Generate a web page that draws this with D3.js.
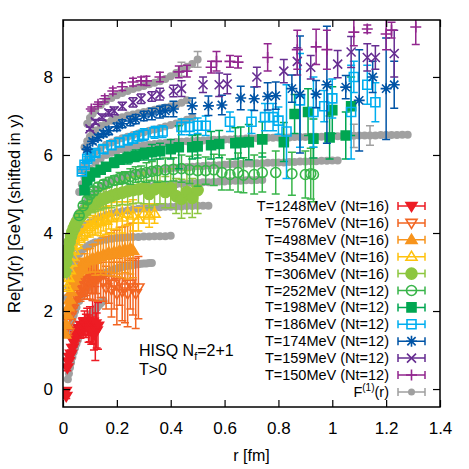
<!DOCTYPE html>
<html>
<head>
<meta charset="utf-8">
<script src="https://cdn.jsdelivr.net/npm/d3@7"></script>
<style>
  body { margin: 0; background: #fff; }
  svg { display: block; font-family: "Liberation Sans", Arial, sans-serif; }
</style>
</head>
<body>
<svg id="chart" width="469" height="469"></svg>
<script>
// legend labels, colours and marker shapes (legend order)
const labels = [
  'T=1248MeV (Nt=16)', 'T=576MeV (Nt=16)', 'T=498MeV (Nt=16)', 'T=354MeV (Nt=16)',
  'T=306MeV (Nt=16)', 'T=252MeV (Nt=12)', 'T=198MeV (Nt=12)', 'T=186MeV (Nt=12)',
  'T=174MeV (Nt=12)', 'T=159MeV (Nt=12)', 'T=150MeV (Nt=12)'
];
const colors = ['#ed1c24', '#f26522', '#f7941d', '#ffc20e', '#8dc63f', '#39b54a',
  '#00a651', '#00aeef', '#0054a6', '#662d91', '#92278f'];
const shapes = ['triDown', 'triDown', 'triUp', 'triUp', 'circle', 'circle',
  'square', 'square', 'star', 'cross', 'plus'];
const filled = [true, false, true, false, true, false, true, false, false, false, false];

const xTicks = [0, 0.2, 0.4, 0.6, 0.8, 1, 1.2, 1.4];
const yTicks = [0, 2, 4, 6, 8];

// [r (fm), Re V (GeV, shifted), error]
const t1248 = [[0.01,-0.05,0.05],[0.012,-0.18,0.06],[0.016,0.55,0.08],[0.02,0.7,0.08],[0.024,0.82,0.1],
  [0.03,0.9,0.1],[0.035,1.05,0.1],[0.04,1.2,0.12],[0.045,1.3,0.12],[0.05,1.38,0.15],[0.055,1.5,0.15],
  [0.06,1.55,0.18],[0.065,1.5,0.2],[0.07,1.62,0.2],[0.075,1.58,0.25],[0.08,1.7,0.3],[0.085,1.62,0.3],
  [0.09,1.72,0.35],[0.095,1.55,0.35],[0.1,1.66,0.45],[0.105,1.5,0.35],[0.11,1.72,0.55],[0.115,1.4,0.4],
  [0.12,1.68,0.95],[0.125,1.5,0.45],[0.13,1.62,0.6]];
const t576 = [[0.02,1.45,0.08],[0.025,1.7,0.1],[0.03,1.9,0.1],[0.035,2.05,0.12],[0.04,2.2,0.12],
  [0.045,2.3,0.15],[0.05,2.38,0.15],[0.055,2.45,0.2],[0.06,2.55,0.2],[0.065,2.5,0.25],[0.07,2.62,0.25],
  [0.075,2.68,0.3],[0.08,2.6,0.3],[0.085,2.75,0.35],[0.09,2.7,0.4],[0.095,2.8,0.35],[0.1,2.75,0.45],
  [0.105,2.85,0.4],[0.11,2.78,0.5],[0.115,2.9,0.45],[0.12,2.82,0.55],[0.125,2.95,0.5],[0.13,2.85,0.6],
  [0.14,2.9,0.55],[0.15,2.75,0.5],[0.16,2.6,0.55],[0.17,2.8,0.6],[0.18,2.55,0.7],[0.19,2.7,0.65],
  [0.2,2.45,0.8],[0.21,2.75,0.6],[0.22,2.5,0.75],[0.23,2.6,0.9],[0.24,2.45,0.85],[0.25,2.7,0.65],
  [0.26,2.6,0.7],[0.27,2.45,0.9],[0.28,2.6,0.8]];
const t498 = [[0.008,1.4,0.05],[0.012,1.65,0.06],[0.016,1.9,0.08],[0.02,2.1,0.08],[0.025,2.3,0.1],
  [0.03,2.5,0.1],[0.035,2.65,0.1],[0.04,2.78,0.12],[0.045,2.88,0.12],[0.05,2.95,0.15],[0.055,3.02,0.15],
  [0.06,3.08,0.18],[0.065,3.12,0.2],[0.07,3.15,0.2],[0.08,3.22,0.25],[0.09,3.28,0.3],[0.1,3.3,0.3],
  [0.11,3.35,0.35],[0.12,3.32,0.4],[0.13,3.4,0.4],[0.14,3.38,0.45],[0.15,3.45,0.45],[0.16,3.42,0.5],
  [0.17,3.5,0.5],[0.18,3.45,0.55],[0.19,3.52,0.55],[0.2,3.48,0.6],[0.21,3.55,0.6],[0.22,3.5,0.65],
  [0.23,3.58,0.6],[0.24,3.52,0.7],[0.25,3.6,0.65],[0.26,3.55,0.7]];
const t354 = [[0.015,2.6,0.05],[0.02,2.85,0.06],[0.025,3.05,0.08],[0.03,3.25,0.08],[0.035,3.4,0.1],
  [0.04,3.55,0.1],[0.05,3.7,0.12],[0.06,3.85,0.15],[0.07,3.95,0.15],[0.08,4.02,0.2],[0.09,4.1,0.2],
  [0.1,4.15,0.25],[0.11,4.2,0.25],[0.12,4.25,0.3],[0.13,4.3,0.3],[0.14,4.28,0.35],[0.15,4.35,0.3],
  [0.16,4.32,0.35],[0.17,4.4,0.3],[0.18,4.38,0.4],[0.2,4.45,0.35],[0.22,4.4,0.4],[0.24,4.5,0.3],
  [0.26,4.45,0.4],[0.28,4.35,0.3],[0.3,4.5,0.25],[0.32,4.45,0.3],[0.34,4.5,0.25]];
const t306 = [[0.008,3.0,0.05],[0.012,3.25,0.05],[0.016,3.45,0.06],[0.02,3.6,0.06],[0.025,3.78,0.08],
  [0.03,3.92,0.08],[0.035,4.03,0.08],[0.04,4.12,0.1],[0.045,4.2,0.1],[0.05,4.27,0.1],[0.06,4.38,0.12],
  [0.07,4.47,0.12],[0.08,4.55,0.15],[0.09,4.62,0.15],[0.1,4.68,0.15],[0.11,4.72,0.2],[0.12,4.76,0.2],
  [0.13,4.8,0.2],[0.14,4.84,0.25],[0.15,4.87,0.25],[0.16,4.9,0.25],[0.18,4.95,0.3],[0.2,5.0,0.3],
  [0.22,5.03,0.3],[0.24,5.07,0.35],[0.26,5.1,0.35],[0.28,5.12,0.35],[0.3,5.15,0.4],[0.32,5.0,0.35],
  [0.34,5.12,0.4],[0.36,5.2,0.45],[0.38,5.05,0.4],[0.4,5.15,0.5],[0.42,4.95,0.45],[0.44,4.88,0.5],
  [0.46,5.05,0.55],[0.48,4.9,0.5],[0.5,5.1,0.6]];
const t252 = [[0.06,4.45,0.05],[0.075,4.7,0.06],[0.09,4.85,0.08],[0.1,4.98,0.08],[0.115,5.08,0.1],
  [0.13,5.18,0.1],[0.15,5.25,0.1],[0.17,5.3,0.12],[0.19,5.35,0.12],[0.21,5.4,0.15],[0.23,5.42,0.15],
  [0.25,5.45,0.2],[0.27,5.5,0.2],[0.29,5.52,0.2],[0.31,5.55,0.25],[0.33,5.58,0.25],[0.35,5.6,0.3],
  [0.38,5.62,0.3],[0.41,5.63,0.3],[0.44,5.65,0.35],[0.47,5.62,0.35],[0.5,5.6,0.4],[0.53,5.6,0.35],
  [0.56,5.62,0.4],[0.59,5.55,0.45],[0.62,5.5,0.4],[0.65,5.55,0.5],[0.67,5.48,0.45],[0.71,5.5,0.5],
  [0.74,5.55,0.5],[0.79,5.55,0.55],[0.85,5.52,0.55],[0.9,5.5,0.6],[0.92,5.52,0.65],[0.93,5.5,0.7]];
const t198 = [[0.08,5.1,0.05],[0.09,5.35,0.06],[0.1,5.45,0.08],[0.12,5.55,0.08],[0.14,5.62,0.1],
  [0.16,5.7,0.1],[0.19,5.8,0.12],[0.21,5.88,0.12],[0.24,5.92,0.15],[0.27,5.98,0.15],[0.3,6.02,0.15],
  [0.33,6.07,0.2],[0.36,6.1,0.2],[0.4,6.15,0.25],[0.43,6.2,0.55],[0.48,6.2,0.3],[0.5,6.22,0.3],
  [0.55,6.25,0.35],[0.58,6.28,0.35],[0.64,6.3,0.4],[0.66,6.32,0.4],[0.69,6.33,0.45],[0.74,6.4,0.45],
  [0.82,6.33,0.5],[0.86,7.05,0.5],[0.91,7.1,0.6],[0.93,6.42,0.5],[0.99,6.45,0.55],[1.0,7.15,0.6],
  [1.05,6.5,0.6],[1.07,7.25,0.75]];
const t186 = [[0.07,5.58,0.05],[0.08,5.75,0.06],[0.09,5.9,0.06],[0.1,5.97,0.08],[0.12,6.05,0.08],
  [0.15,6.15,0.1],[0.18,6.25,0.1],[0.21,6.32,0.1],[0.24,6.38,0.12],[0.26,6.42,0.12],[0.28,6.48,0.12],
  [0.3,6.52,0.15],[0.34,6.58,0.15],[0.37,6.6,0.15],[0.44,6.72,0.2],[0.47,6.72,0.2],[0.5,6.75,0.2],
  [0.53,6.75,0.25],[0.62,6.85,0.25],[0.7,6.85,0.3],[0.75,6.97,0.35],[0.78,6.97,0.35],[0.8,6.88,0.35],
  [0.83,6.6,1.2],[0.88,7.4,1.2],[0.93,7.1,0.9],[0.97,7.25,0.4],[1.0,7.45,0.5],[1.07,7.1,1.2],
  [1.08,8.0,0.4],[1.13,7.8,0.5],[1.16,7.35,0.5]];
const t174 = [[0.09,6.15,0.05],[0.11,6.35,0.06],[0.13,6.45,0.08],[0.15,6.55,0.08],[0.17,6.62,0.1],
  [0.2,6.72,0.1],[0.22,6.8,0.1],[0.25,6.87,0.12],[0.27,6.92,0.12],[0.3,7.0,0.12],[0.33,7.05,0.15],
  [0.36,7.1,0.15],[0.38,7.13,0.15],[0.41,7.18,0.2],[0.48,7.26,0.2],[0.54,7.26,0.25],[0.59,7.28,0.25],
  [0.66,7.46,0.3],[0.71,7.44,0.3],[0.76,7.5,0.35],[0.79,7.52,0.35],[0.85,7.7,0.35],[0.88,7.55,1.5],
  [0.94,7.56,0.35],[0.98,7.8,1.5],[1.05,7.74,0.3],[1.1,7.4,1.3],[1.15,8.0,0.4],[1.2,7.7,1.3],
  [1.23,7.8,0.6]];
const t159 = [[0.1,6.67,0.05],[0.12,6.85,0.06],[0.145,6.97,0.08],[0.17,7.08,0.08],[0.19,7.13,0.1],
  [0.22,7.25,0.1],[0.26,7.35,0.12],[0.29,7.44,0.12],[0.33,7.5,0.12],[0.36,7.56,0.15],[0.41,7.64,0.15],
  [0.44,7.7,0.2],[0.52,7.8,0.2],[0.58,7.8,0.3],[0.61,7.82,0.25],[0.72,8.0,0.25],[0.82,8.15,0.3],
  [0.87,8.4,0.35],[0.92,8.25,0.3],[1.02,8.33,0.35],[1.07,8.64,0.4],[1.13,8.5,0.35],[1.16,8.5,0.3],
  [1.23,8.6,0.6]];
const t150 = [[0.105,7.18,0.05],[0.13,7.3,0.06],[0.155,7.44,0.08],[0.185,7.64,0.08],[0.22,7.75,0.1],
  [0.26,7.87,0.1],[0.29,7.9,0.1],[0.31,7.9,0.12],[0.36,8.0,0.12],[0.43,8.13,0.15],[0.46,8.15,0.15],
  [0.55,8.25,0.15],[0.57,8.4,0.25],[0.62,8.4,0.15],[0.65,8.38,0.15],[0.76,8.5,0.35],[0.87,8.7,0.5],
  [0.94,8.77,0.45],[0.98,8.7,0.5],[1.08,9.15,0.35],[1.13,9.23,0.1],[1.2,9.1,0.4],[1.22,9.2,0.2],
  [1.31,9.28,0.45]];
const series = [t1248, t576, t498, t354, t306, t252, t198, t186, t174, t159, t150];

// F^(1)(r) reference bands (grey), [r, V] or [r, V, error]
const f1a = [[0.018,0.25],[0.022,0.4],[0.026,0.55],[0.03,0.68],[0.035,0.82],[0.04,0.95],[0.045,1.06],
  [0.05,1.16],[0.055,1.26],[0.06,1.35],[0.065,1.43],[0.07,1.5],[0.075,1.57],[0.08,1.64],[0.085,1.7],
  [0.09,1.76],[0.095,1.81],[0.1,1.86],[0.105,1.91],[0.11,1.96],[0.115,2.0],[0.12,2.04],[0.125,2.08],
  [0.13,2.12],[0.135,2.16],[0.14,2.2],[0.145,2.24],[0.15,2.27]];
const f1b = [[0.025,1.45],[0.03,1.62],[0.035,1.77],[0.04,1.9],[0.045,2.0],[0.05,2.1],[0.06,2.26],
  [0.07,2.39],[0.08,2.5],[0.09,2.59],[0.1,2.67],[0.11,2.74],[0.12,2.8],[0.13,2.85],[0.14,2.9],
  [0.15,2.94],[0.16,2.98],[0.17,3.01],[0.18,3.04],[0.19,3.07],[0.2,3.09],[0.21,3.11],[0.22,3.13],
  [0.23,3.15],[0.24,3.16],[0.25,3.17],[0.26,3.18],[0.27,3.19],[0.28,3.2],[0.29,3.21],[0.3,3.22],
  [0.31,3.22],[0.32,3.23],[0.33,3.23]];
const f1c = [[0.015,2.35],[0.02,2.6],[0.025,2.8],[0.03,2.97],[0.035,3.1],[0.04,3.2],[0.045,3.29],
  [0.05,3.36],[0.06,3.47],[0.07,3.55],[0.08,3.61],[0.09,3.66],[0.1,3.7],[0.11,3.73],[0.12,3.76],
  [0.14,3.8],[0.16,3.83],[0.18,3.85],[0.2,3.87],[0.22,3.88],[0.24,3.89],[0.26,3.9],[0.28,3.9],
  [0.3,3.91],[0.32,3.91],[0.34,3.92],[0.36,3.92],[0.38,3.92],[0.4,3.93]];
const f1d = [[0.02,3.1],[0.025,3.3],[0.03,3.46],[0.035,3.6],[0.04,3.71],[0.045,3.8],[0.05,3.88],
  [0.06,4.0],[0.07,4.09],[0.08,4.16],[0.09,4.22],[0.1,4.27],[0.12,4.35],[0.14,4.41],[0.16,4.46],
  [0.18,4.5],[0.2,4.53],[0.22,4.56],[0.24,4.58],[0.26,4.6],[0.28,4.62],[0.3,4.63],[0.32,4.64],
  [0.34,4.65],[0.36,4.66],[0.38,4.67],[0.4,4.67],[0.42,4.68],[0.44,4.68],[0.46,4.69],[0.48,4.69],
  [0.5,4.7],[0.52,4.7],[0.54,4.7]];
const f1e = [[0.03,3.95],[0.035,4.1],[0.04,4.22],[0.045,4.32],[0.05,4.4],[0.06,4.52],[0.07,4.61],
  [0.08,4.68],[0.09,4.74],[0.1,4.79],[0.12,4.87],[0.14,4.93],[0.16,4.98],[0.18,5.02],[0.2,5.06],
  [0.22,5.09],[0.24,5.12],[0.26,5.14],[0.28,5.16],[0.3,5.18],[0.32,5.2],[0.34,5.21],[0.36,5.22],
  [0.38,5.23],[0.4,5.24],[0.42,5.25],[0.44,5.26],[0.46,5.27],[0.48,5.28],[0.5,5.29],[0.52,5.3],
  [0.54,5.3],[0.56,5.31],[0.58,5.32],[0.6,5.32],[0.62,5.33],[0.64,5.34],[0.66,5.34],[0.68,5.35],
  [0.7,5.35],[0.72,5.36],[0.74,5.36]];
const f1f = [[0.05,4.2],[0.06,4.42],[0.07,4.6],[0.08,4.74],[0.09,4.85],[0.1,4.94],[0.12,5.08],
  [0.14,5.19],[0.16,5.28],[0.18,5.35],[0.2,5.4],[0.22,5.45],[0.24,5.48],[0.26,5.51],[0.28,5.54],
  [0.3,5.56],[0.32,5.58],[0.34,5.6],[0.36,5.62],[0.38,5.64],[0.4,5.66],[0.42,5.67],[0.44,5.68],
  [0.46,5.69],[0.48,5.7],[0.5,5.71],[0.52,5.72],[0.54,5.73],[0.56,5.74],[0.58,5.74],[0.6,5.75],
  [0.62,5.76],[0.64,5.76],[0.66,5.77],[0.68,5.78],[0.7,5.78],[0.72,5.79],[0.74,5.79],[0.76,5.8],
  [0.78,5.8],[0.8,5.81],[0.82,5.81],[0.84,5.82],[0.86,5.82],[0.88,5.83],[0.9,5.83],[0.92,5.84],
  [0.94,5.84],[0.96,5.85],[0.98,5.85],[1.0,5.86],[1.02,5.86]];
const f1g = [[0.06,5.05],[0.07,5.25],[0.08,5.42],[0.09,5.55],[0.1,5.65],[0.12,5.8],[0.14,5.91],
  [0.16,6.0],[0.18,6.06],[0.2,6.11],[0.22,6.15],[0.24,6.18],[0.26,6.21],[0.28,6.23],[0.3,6.25],
  [0.32,6.27],[0.34,6.28],[0.36,6.3],[0.38,6.31],[0.4,6.32],[0.42,6.33],[0.44,6.34],[0.46,6.35],
  [0.48,6.36],[0.5,6.37],[0.52,6.37],[0.54,6.38],[0.56,6.39],[0.58,6.39],[0.6,6.4],[0.62,6.4],
  [0.64,6.41],[0.66,6.41],[0.68,6.42],[0.7,6.42],[0.72,6.43],[0.74,6.43],[0.76,6.44],[0.78,6.44],
  [0.8,6.45],[0.82,6.45],[0.84,6.45],[0.86,6.46],[0.88,6.46],[0.9,6.46],[0.92,6.47],[0.94,6.47],
  [0.96,6.47],[0.98,6.48],[1.0,6.48],[1.02,6.48],[1.04,6.49],[1.06,6.49],[1.08,6.49,0.3],[1.1,6.5],
  [1.12,6.5],[1.14,6.5,0.25],[1.16,6.5],[1.18,6.51],[1.2,6.51],[1.22,6.51],[1.24,6.51],[1.26,6.52],
  [1.28,6.52]];
const f1h = [[0.07,5.6],[0.08,5.75],[0.09,5.86],[0.1,5.95],[0.11,6.02],[0.12,6.08],[0.14,6.18],
  [0.16,6.26],[0.18,6.32],[0.2,6.38],[0.22,6.43],[0.24,6.47],[0.26,6.51],[0.28,6.55],[0.3,6.58],
  [0.32,6.62],[0.34,6.65],[0.36,6.69],[0.38,6.73],[0.4,6.77],[0.42,6.81],[0.44,6.85],[0.46,6.9],
  [0.48,6.96]];
const f1i = [[0.08,6.2],[0.09,6.35],[0.1,6.47],[0.11,6.56],[0.12,6.63],[0.14,6.74],[0.16,6.82],
  [0.18,6.88],[0.2,6.93],[0.22,6.97],[0.24,7.01],[0.26,7.04],[0.28,7.07],[0.3,7.1],[0.32,7.13],
  [0.34,7.16],[0.36,7.19],[0.38,7.22],[0.4,7.25],[0.42,7.29],[0.44,7.34],[0.46,7.4]];
const f1j = [[0.09,6.8],[0.1,6.95],[0.11,7.06],[0.12,7.14],[0.14,7.28],[0.16,7.38],[0.18,7.46],
  [0.2,7.53],[0.22,7.59],[0.24,7.64],[0.26,7.69],[0.28,7.73],[0.3,7.77],[0.32,7.81],[0.34,7.85],
  [0.36,7.89],[0.38,7.95],[0.4,8.02],[0.42,8.1],[0.44,8.2,0.18],[0.46,8.26],[0.48,8.33],[0.5,8.45,0.2]];
const f1Bands = [f1a, f1b, f1c, f1d, f1e, f1f, f1g, f1h, f1i, f1j];
const grey = '#a0a0a0';

const svg = d3.select('#chart');
const x = d3.scaleLinear().domain([0, 1.4]).range([63, 440]);
const y = d3.scaleLinear().domain([-0.46, 9.46]).range([407, 20]);
const [x0, x1] = x.range();
const [yB, yT] = y.range();

svg.append('defs').append('clipPath').attr('id', 'plotClip')
  .append('rect').attr('x', x0).attr('y', yT).attr('width', x1 - x0).attr('height', yB - yT);

const symbolPath = (shape, s) => {
  const cross = k => `M${-k},${-k}L${k},${k}M${-k},${k}L${k},${-k}`;
  const plus = k => `M${-k},0H${k}M0,${-k}V${k}`;
  switch (shape) {
    case 'triDown': return `M${-s},${-s * 0.65}L${s},${-s * 0.65}L0,${s}Z`;
    case 'triUp': return `M${-s},${s * 0.65}L${s},${s * 0.65}L0,${-s}Z`;
    case 'circle': return `M${s},0A${s},${s} 0 1,1 ${-s},0A${s},${s} 0 1,1 ${s},0Z`;
    case 'square': return `M${-s},${-s}H${s}V${s}H${-s}Z`;
    case 'cross': return cross(s);
    case 'plus': return plus(s);
    case 'star': return cross(s * 0.75) + plus(s);
  }
};
const symbolSize = { triDown: 5.5, triUp: 5.5, circle: 5, square: 4.5, cross: 4.5, plus: 5.5, star: 5.5 };

const cap = 4;
const plot = svg.append('g').attr('clip-path', 'url(#plotClip)');

// grey F1 bands go underneath
const greyG = plot.append('g');
f1Bands.forEach(band => {
  band.filter(d => d[2]).forEach(d => {
    const ya = y(d[1] - d[2]), yb = y(d[1] + d[2]), cx = x(d[0]);
    greyG.append('path')
      .attr('d', `M${cx},${ya}V${yb}M${cx - cap},${ya}H${cx + cap}M${cx - cap},${yb}H${cx + cap}`)
      .attr('stroke', grey).attr('stroke-width', 1.5).attr('fill', 'none');
  });
  greyG.selectAll(null).data(band).join('circle')
    .attr('cx', d => x(d[0])).attr('cy', d => y(d[1])).attr('r', 4)
    .attr('fill', grey);
});

series.forEach((data, i) => {
  const g = plot.append('g');
  const col = colors[i];
  const s = (shapes[i] === 'circle' && filled[i]) ? 5.5 : symbolSize[shapes[i]];
  g.selectAll('path.err').data(data).join('path')
    .attr('class', 'err')
    .attr('d', d => {
      const cx = x(d[0]), ya = y(d[1] - d[2]), yb = y(d[1] + d[2]);
      return `M${cx},${ya}V${yb}M${cx - cap},${ya}H${cx + cap}M${cx - cap},${yb}H${cx + cap}`;
    })
    .attr('stroke', col).attr('stroke-width', 1.5).attr('fill', 'none');
  g.selectAll('path.pt').data(data).join('path')
    .attr('class', 'pt')
    .attr('transform', d => `translate(${x(d[0])},${y(d[1])})`)
    .attr('d', symbolPath(shapes[i], s))
    .attr('fill', filled[i] ? col : 'none')
    .attr('stroke', col).attr('stroke-width', 1.6);
});

// axes: inward ticks on all four sides
const fontTick = '17px';
const styleAxis = g => {
  g.select('.domain').remove();
  g.selectAll('line').attr('stroke', '#000').attr('stroke-width', 1.2);
  g.selectAll('text').attr('font-size', fontTick).attr('fill', '#000')
    .attr('font-family', '"Liberation Sans", Arial, sans-serif');
};
svg.append('g').attr('transform', `translate(0,${yB})`)
  .call(d3.axisBottom(x).tickValues(xTicks).tickSize(-7).tickPadding(15).tickFormat(d3.format('')))
  .call(styleAxis);
svg.append('g').attr('transform', `translate(0,${yT})`)
  .call(d3.axisTop(x).tickValues(xTicks).tickSize(-7).tickFormat(''))
  .call(styleAxis);
svg.append('g').attr('transform', `translate(${x0},0)`)
  .call(d3.axisLeft(y).tickValues(yTicks).tickSize(-7).tickPadding(10))
  .call(styleAxis);
svg.append('g').attr('transform', `translate(${x1},0)`)
  .call(d3.axisRight(y).tickValues(yTicks).tickSize(-7).tickFormat(''))
  .call(styleAxis);

svg.append('rect').attr('x', x0).attr('y', yT).attr('width', x1 - x0).attr('height', yB - yT)
  .attr('fill', 'none').attr('stroke', '#000').attr('stroke-width', 1.5);

// axis titles
svg.append('text').attr('x', (x0 + x1) / 2).attr('y', 461).attr('text-anchor', 'middle')
  .attr('font-size', 16).text('r [fm]');
svg.append('text').attr('transform', `translate(20,${(yT + yB) / 2}) rotate(-90)`)
  .attr('text-anchor', 'middle').attr('font-size', 16.5).text('Re[V](r) [GeV] (shifted in y)');

// annotation
const note = svg.append('text').attr('x', 139).attr('y', 356).attr('font-size', 16);
note.append('tspan').text('HISQ N');
note.append('tspan').attr('dy', 4).attr('font-size', 11).text('f');
note.append('tspan').attr('dy', -4).text('=2+1');
svg.append('text').attr('x', 139).attr('y', 375).attr('font-size', 16).text('T>0');

// legend
const legY0 = 206, legDy = 16.9, legTextX = 389, legL = 398, legR = 425;
const legMid = (legL + legR) / 2;
const legend = svg.append('g').attr('font-size', 14.5);
const legRow = (row, col) => {
  const yy = legY0 + row * legDy;
  legend.append('path')
    .attr('d', `M${legL},${yy}H${legR}M${legL},${yy - 4}V${yy + 4}M${legR},${yy - 4}V${yy + 4}`)
    .attr('stroke', col).attr('stroke-width', 1.5).attr('fill', 'none');
  return yy;
};
labels.forEach((lab, i) => {
  const yy = legRow(i, colors[i]);
  const s = (shapes[i] === 'circle' && filled[i]) ? 5.5 : symbolSize[shapes[i]];
  legend.append('path').attr('transform', `translate(${legMid},${yy})`)
    .attr('d', symbolPath(shapes[i], s))
    .attr('fill', filled[i] ? colors[i] : 'none')
    .attr('stroke', colors[i]).attr('stroke-width', 1.6);
  legend.append('text').attr('x', legTextX).attr('y', yy + 5).attr('text-anchor', 'end').text(lab);
});
{
  const yy = legRow(labels.length, grey);
  legend.append('circle').attr('cx', legMid).attr('cy', yy).attr('r', 3.5).attr('fill', grey);
  const t = legend.append('text').attr('x', legTextX).attr('y', yy + 5).attr('text-anchor', 'end');
  t.append('tspan').text('F');
  t.append('tspan').attr('dy', -6).attr('font-size', 10).text('(1)');
  t.append('tspan').attr('dy', 6).text('(r)');
}
</script>
</body>
</html>
